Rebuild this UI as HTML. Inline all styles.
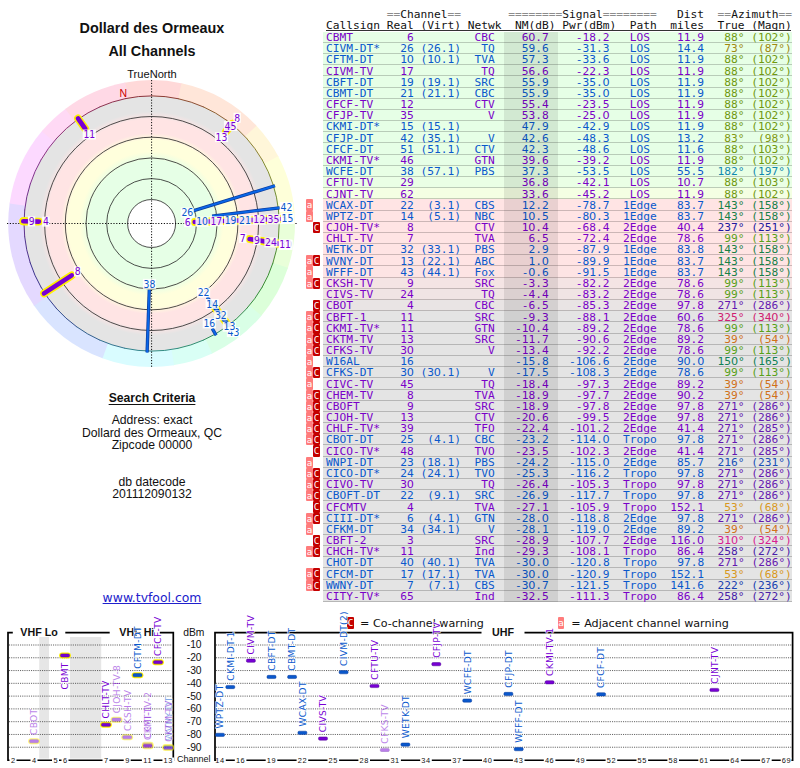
<!DOCTYPE html>
<html><head><meta charset="utf-8"><title>TV Fool - Dollard des Ormeaux</title>
<style>
html,body{margin:0;padding:0;background:#fff}
body{width:800px;height:768px;position:relative;overflow:hidden;font-family:"Liberation Sans",sans-serif;color:#111}
.abs{position:absolute;white-space:nowrap}
.ctr{position:absolute;left:0;width:304px;text-align:center;white-space:nowrap}
.t1{font-weight:bold;font-size:14.4px;line-height:16px}
.t2{font-size:11.1px;line-height:12px}
.sc{font-size:12.2px;line-height:14px}
.lnk{font-family:"DejaVu Sans","Liberation Sans",sans-serif;font-size:12.4px;line-height:14px;color:#2020cc;text-decoration:underline}
.mono{font-family:"DejaVu Sans Mono","Liberation Mono",monospace;font-size:10.5px;white-space:pre;line-height:11.175px;transform:scaleX(1.0678);transform-origin:0 0}
.mono i{font-family:"DejaVu Sans","Liberation Sans",sans-serif;font-style:normal;margin:0 -0.179px}
.row{position:absolute;left:323.3px;width:468.8px;height:11.175px;box-sizing:border-box;border-bottom:1px solid rgba(0,0,0,.2)}
.row span.tx{position:absolute;left:2.7px;top:0.2px}
.hd{position:absolute;left:326px}
.eq{color:#8c8c8c}
.p{color:#7a00c8}.b{color:#0a58cc}
.wa,.wc{position:absolute;height:11.175px;width:6.6px;color:#fff;font-family:"DejaVu Sans Mono","Liberation Mono",monospace;font-size:9.2px;line-height:11px;text-align:center;border-radius:1px}
.wa{left:306.1px;width:6.8px;background:#ff7c7c}
.wc{left:312.9px;width:7.1px;background:#c40000}
.band{position:absolute;left:504.4px;width:53.7px;top:32px;height:570px;background:rgba(0,0,0,.085)}
.leg{font-family:"DejaVu Sans","Liberation Sans",sans-serif;font-size:11.15px;line-height:13px}
svg{position:absolute;left:0;top:0}
svg text{font-family:"DejaVu Sans","Liberation Sans",sans-serif}
svg .ar text,svg text.ar{font-family:"Liberation Sans",sans-serif}
svg text.rl{font-family:"DejaVu Sans Condensed","DejaVu Sans",sans-serif;font-stretch:condensed;font-size:10.3px;text-anchor:middle}
svg text.cl{font-size:9.1px;letter-spacing:0.3px;stroke:#fff;stroke-width:1.6px;stroke-opacity:.75;paint-order:stroke;stroke-linejoin:round}
</style></head><body>

<div class="ctr t1" style="top:20.4px">Dollard des Ormeaux</div>
<div class="ctr t1" style="top:42.6px">All Channels</div>
<div class="ctr t2" style="top:68.2px">TrueNorth</div>
<div class="ctr sc" style="top:391px;font-weight:bold;text-decoration:underline;text-underline-offset:2px">Search Criteria</div>
<div class="ctr sc" style="top:413px">Address: exact</div>
<div class="ctr sc" style="top:426px">Dollard des Ormeaux, QC</div>
<div class="ctr sc" style="top:438px">Zipcode 00000</div>
<div class="ctr sc" style="top:475px">db datecode</div>
<div class="ctr sc" style="top:487px">201112090132</div>
<div class="ctr lnk" style="top:590.5px">www.tvfool.com</div>
<svg width="800" height="768" viewBox="0 0 800 768">
<defs><radialGradient id="rg" gradientUnits="userSpaceOnUse" cx="151.6" cy="223.5" r="127.5">
<stop offset="0.0000" stop-color="#e6ffe6"/>
<stop offset="0.4941" stop-color="#e6ffe6"/>
<stop offset="0.5647" stop-color="#ffffdc"/>
<stop offset="0.6549" stop-color="#ffffdc"/>
<stop offset="0.7098" stop-color="#ffe4e4"/>
<stop offset="0.8157" stop-color="#ffe4e4"/>
<stop offset="0.8784" stop-color="#e4e4e4"/>
<stop offset="1.0000" stop-color="#e4e4e4"/>
</radialGradient></defs>
<path d="M151.60 223.50 L124.24 82.73 A143.4 143.4 0 0 1 182.39 83.45 Z" fill="#ffd9d9"/>
<path d="M151.60 223.50 L181.41 83.23 A143.4 143.4 0 0 1 257.16 126.44 Z" fill="#ffe6d9"/>
<path d="M151.60 223.50 L256.48 125.70 A143.4 143.4 0 0 1 278.68 157.06 Z" fill="#fff6d9"/>
<path d="M151.60 223.50 L278.21 156.18 A143.4 143.4 0 0 1 295.00 224.50 Z" fill="#feffd9"/>
<path d="M151.60 223.50 L295.00 223.50 A143.4 143.4 0 0 1 287.67 268.76 Z" fill="#e9ffd9"/>
<path d="M151.60 223.50 L287.98 267.81 A143.4 143.4 0 0 1 260.80 316.44 Z" fill="#dcffd9"/>
<path d="M151.60 223.50 L261.45 315.68 A143.4 143.4 0 0 1 211.29 353.88 Z" fill="#d9ffe6"/>
<path d="M151.60 223.50 L212.20 353.46 A143.4 143.4 0 0 1 173.04 365.29 Z" fill="#d9fff5"/>
<path d="M151.60 223.50 L174.03 365.13 A143.4 143.4 0 0 1 101.61 357.91 Z" fill="#d9fcff"/>
<path d="M151.60 223.50 L102.55 358.25 A143.4 143.4 0 0 1 33.56 304.93 Z" fill="#d9e4ff"/>
<path d="M151.60 223.50 L34.13 305.75 A143.4 143.4 0 0 1 9.74 202.55 Z" fill="#e4d9ff"/>
<path d="M151.60 223.50 L9.60 203.54 A143.4 143.4 0 0 1 42.40 130.56 Z" fill="#fcd9ff"/>
<path d="M151.60 223.50 L41.75 131.32 A143.4 143.4 0 0 1 66.10 108.38 Z" fill="#ffd9f5"/>
<path d="M151.60 223.50 L65.30 108.98 A143.4 143.4 0 0 1 125.22 82.55 Z" fill="#ffd9e6"/>
<circle cx="151.6" cy="223.5" r="127.5" fill="url(#rg)"/>
<circle cx="151.6" cy="223.5" r="24" fill="#fff"/>
<circle cx="151.6" cy="223.5" r="24" fill="none" stroke="#222" stroke-width="0.8"/>
<circle cx="151.6" cy="223.5" r="44.9" fill="none" stroke="#222" stroke-width="0.8"/>
<circle cx="151.6" cy="223.5" r="65.6" fill="none" stroke="#222" stroke-width="0.8"/>
<circle cx="151.6" cy="223.5" r="86.3" fill="none" stroke="#222" stroke-width="0.8"/>
<circle cx="151.6" cy="223.5" r="107" fill="none" stroke="#222" stroke-width="0.8"/>
<path d="M151.60 95.90A127.6 127.6 0 0 1 178.57 98.78" fill="none" stroke="#802920" stroke-width="0.9"/>
<path d="M178.13 98.69A127.6 127.6 0 0 1 203.91 107.11" fill="none" stroke="#803d20" stroke-width="0.9"/>
<path d="M203.50 106.93A127.6 127.6 0 0 1 226.96 120.53" fill="none" stroke="#805020" stroke-width="0.9"/>
<path d="M226.60 120.27A127.6 127.6 0 0 1 246.72 138.45" fill="none" stroke="#806320" stroke-width="0.9"/>
<path d="M246.43 138.12A127.6 127.6 0 0 1 262.33 160.09" fill="none" stroke="#807620" stroke-width="0.9"/>
<path d="M262.10 159.70A127.6 127.6 0 0 1 273.09 184.49" fill="none" stroke="#768020" stroke-width="0.9"/>
<path d="M272.95 184.07A127.6 127.6 0 0 1 278.55 210.61" fill="none" stroke="#638020" stroke-width="0.9"/>
<path d="M278.50 210.16A127.6 127.6 0 0 1 278.45 237.28" fill="none" stroke="#508020" stroke-width="0.9"/>
<path d="M278.50 236.84A127.6 127.6 0 0 1 272.82 263.35" fill="none" stroke="#3d8020" stroke-width="0.9"/>
<path d="M272.95 262.93A127.6 127.6 0 0 1 261.88 287.69" fill="none" stroke="#298020" stroke-width="0.9"/>
<path d="M262.10 287.30A127.6 127.6 0 0 1 246.13 309.21" fill="none" stroke="#208029" stroke-width="0.9"/>
<path d="M246.43 308.88A127.6 127.6 0 0 1 226.24 326.99" fill="none" stroke="#20803d" stroke-width="0.9"/>
<path d="M226.60 326.73A127.6 127.6 0 0 1 203.09 340.25" fill="none" stroke="#208050" stroke-width="0.9"/>
<path d="M203.50 340.07A127.6 127.6 0 0 1 177.69 348.40" fill="none" stroke="#208063" stroke-width="0.9"/>
<path d="M178.13 348.31A127.6 127.6 0 0 1 151.15 351.10" fill="none" stroke="#208076" stroke-width="0.9"/>
<path d="M151.60 351.10A127.6 127.6 0 0 1 124.63 348.22" fill="none" stroke="#207680" stroke-width="0.9"/>
<path d="M125.07 348.31A127.6 127.6 0 0 1 99.29 339.89" fill="none" stroke="#206380" stroke-width="0.9"/>
<path d="M99.70 340.07A127.6 127.6 0 0 1 76.24 326.47" fill="none" stroke="#205080" stroke-width="0.9"/>
<path d="M76.60 326.73A127.6 127.6 0 0 1 56.48 308.55" fill="none" stroke="#203d80" stroke-width="0.9"/>
<path d="M56.77 308.88A127.6 127.6 0 0 1 40.87 286.91" fill="none" stroke="#202980" stroke-width="0.9"/>
<path d="M41.10 287.30A127.6 127.6 0 0 1 30.11 262.51" fill="none" stroke="#292080" stroke-width="0.9"/>
<path d="M30.25 262.93A127.6 127.6 0 0 1 24.65 236.39" fill="none" stroke="#3d2080" stroke-width="0.9"/>
<path d="M24.70 236.84A127.6 127.6 0 0 1 24.75 209.72" fill="none" stroke="#502080" stroke-width="0.9"/>
<path d="M24.70 210.16A127.6 127.6 0 0 1 30.38 183.65" fill="none" stroke="#632080" stroke-width="0.9"/>
<path d="M30.25 184.07A127.6 127.6 0 0 1 41.32 159.31" fill="none" stroke="#762080" stroke-width="0.9"/>
<path d="M41.10 159.70A127.6 127.6 0 0 1 57.07 137.79" fill="none" stroke="#802076" stroke-width="0.9"/>
<path d="M56.77 138.12A127.6 127.6 0 0 1 76.96 120.01" fill="none" stroke="#802063" stroke-width="0.9"/>
<path d="M76.60 120.27A127.6 127.6 0 0 1 100.11 106.75" fill="none" stroke="#802050" stroke-width="0.9"/>
<path d="M99.70 106.93A127.6 127.6 0 0 1 125.51 98.60" fill="none" stroke="#80203d" stroke-width="0.9"/>
<path d="M125.07 98.69A127.6 127.6 0 0 1 152.05 95.90" fill="none" stroke="#802029" stroke-width="0.9"/>
<path d="M151.6 80V368M7 223.5H297" stroke="#111" stroke-width="1" stroke-dasharray="1.2 1.6" fill="none"/>
<text x="123.3" y="97.4" font-size="10.5" fill="#cc0000" text-anchor="middle" class="ar">N</text>
<path d="M230.62 125.92L232.34 123.79" stroke="#fff000" stroke-width="7.8" stroke-linecap="round"/>
<path d="M230.62 125.92L232.34 123.79" stroke="#7800d4" stroke-width="4.7" stroke-linecap="round"/>
<path d="M26.06 221.31L23.32 221.26" stroke="#fff000" stroke-width="7.8" stroke-linecap="round"/>
<path d="M26.06 221.31L23.32 221.26" stroke="#7800d4" stroke-width="4.7" stroke-linecap="round"/>
<path d="M229.66 127.10L232.78 123.25" stroke="#4a0090" stroke-width="3.3"/>
<path d="M229.66 127.10L232.78 123.25" stroke="#7800d4" stroke-width="1.9"/>
<path d="M273.20 242.76L279.01 243.68" stroke="#0a3a9a" stroke-width="3.3"/>
<path d="M273.20 242.76L279.01 243.68" stroke="#0a66e8" stroke-width="1.9"/>
<path d="M212.28 328.59L216.10 335.22" stroke="#0a3a9a" stroke-width="3.3"/>
<path d="M212.28 328.59L216.10 335.22" stroke="#0a66e8" stroke-width="1.9"/>
<path d="M269.01 242.10L279.01 243.68" stroke="#4a0090" stroke-width="3.3"/>
<path d="M269.01 242.10L279.01 243.68" stroke="#7800d4" stroke-width="1.9"/>
<path d="M225.93 131.71L232.34 123.79" stroke="#fff000" stroke-width="7.8" stroke-linecap="round"/>
<path d="M225.93 131.71L232.34 123.79" stroke="#7800d4" stroke-width="4.7" stroke-linecap="round"/>
<path d="M266.93 241.77L278.32 243.57" stroke="#fff000" stroke-width="7.8" stroke-linecap="round"/>
<path d="M266.93 241.77L278.32 243.57" stroke="#7800d4" stroke-width="4.7" stroke-linecap="round"/>
<path d="M85.28 128.79L78.01 118.40" stroke="#fff000" stroke-width="7.8" stroke-linecap="round"/>
<path d="M85.28 128.79L78.01 118.40" stroke="#7800d4" stroke-width="4.7" stroke-linecap="round"/>
<path d="M38.89 221.53L23.32 221.26" stroke="#fff000" stroke-width="7.8" stroke-linecap="round"/>
<path d="M38.89 221.53L23.32 221.26" stroke="#7800d4" stroke-width="4.7" stroke-linecap="round"/>
<path d="M259.81 240.64L279.01 243.68" stroke="#4a0090" stroke-width="3.3"/>
<path d="M259.81 240.64L279.01 243.68" stroke="#7800d4" stroke-width="1.9"/>
<path d="M259.67 240.62L278.32 243.57" stroke="#fff000" stroke-width="7.8" stroke-linecap="round"/>
<path d="M259.67 240.62L278.32 243.57" stroke="#7800d4" stroke-width="4.7" stroke-linecap="round"/>
<path d="M215.16 307.85L229.23 326.52" stroke="#0a3a9a" stroke-width="3.3"/>
<path d="M215.16 307.85L229.23 326.52" stroke="#0a66e8" stroke-width="1.9"/>
<path d="M214.77 307.33L228.81 325.96" stroke="#fff000" stroke-width="7.8" stroke-linecap="round"/>
<path d="M214.77 307.33L228.81 325.96" stroke="#0a58cc" stroke-width="4.7" stroke-linecap="round"/>
<path d="M212.98 304.96L229.23 326.52" stroke="#0a3a9a" stroke-width="3.3"/>
<path d="M212.98 304.96L229.23 326.52" stroke="#0a66e8" stroke-width="1.9"/>
<path d="M249.65 239.03L278.32 243.57" stroke="#fff000" stroke-width="7.8" stroke-linecap="round"/>
<path d="M249.65 239.03L278.32 243.57" stroke="#7800d4" stroke-width="4.7" stroke-linecap="round"/>
<path d="M71.73 275.37L44.00 293.38" stroke="#fff000" stroke-width="7.8" stroke-linecap="round"/>
<path d="M71.73 275.37L44.00 293.38" stroke="#7800d4" stroke-width="4.7" stroke-linecap="round"/>
<path d="M208.25 298.68L229.23 326.52" stroke="#0a3a9a" stroke-width="3.3"/>
<path d="M208.25 298.68L229.23 326.52" stroke="#0a66e8" stroke-width="1.9"/>
<path d="M207.19 297.27L229.23 326.52" stroke="#0a3a9a" stroke-width="3.3"/>
<path d="M207.19 297.27L229.23 326.52" stroke="#0a66e8" stroke-width="1.9"/>
<path d="M221.78 221.05L280.52 219.00" stroke="#4a0090" stroke-width="3.3"/>
<path d="M221.78 221.05L280.52 219.00" stroke="#7800d4" stroke-width="1.9"/>
<path d="M218.47 221.16L280.52 219.00" stroke="#4a0090" stroke-width="3.3"/>
<path d="M218.47 221.16L280.52 219.00" stroke="#7800d4" stroke-width="1.9"/>
<path d="M149.28 289.85L147.10 352.42" stroke="#0a3a9a" stroke-width="3.3"/>
<path d="M149.28 289.85L147.10 352.42" stroke="#0a66e8" stroke-width="1.9"/>
<path d="M215.58 221.27L280.52 219.00" stroke="#4a0090" stroke-width="3.3"/>
<path d="M215.58 221.27L280.52 219.00" stroke="#7800d4" stroke-width="1.9"/>
<path d="M212.78 221.36L280.52 219.00" stroke="#0a3a9a" stroke-width="3.3"/>
<path d="M212.78 221.36L280.52 219.00" stroke="#0a66e8" stroke-width="1.9"/>
<path d="M212.05 216.08L279.64 207.78" stroke="#0a3a9a" stroke-width="3.3"/>
<path d="M212.05 216.08L279.64 207.78" stroke="#0a66e8" stroke-width="1.9"/>
<path d="M206.99 221.57L280.52 219.00" stroke="#0a3a9a" stroke-width="3.3"/>
<path d="M206.99 221.57L280.52 219.00" stroke="#0a66e8" stroke-width="1.9"/>
<path d="M200.89 221.78L280.52 219.00" stroke="#4a0090" stroke-width="3.3"/>
<path d="M200.89 221.78L280.52 219.00" stroke="#7800d4" stroke-width="1.9"/>
<path d="M200.23 221.80L279.82 219.02" stroke="#fff000" stroke-width="7.8" stroke-linecap="round"/>
<path d="M200.23 221.80L279.82 219.02" stroke="#7800d4" stroke-width="4.7" stroke-linecap="round"/>
<path d="M198.71 221.85L280.52 219.00" stroke="#0a3a9a" stroke-width="3.3"/>
<path d="M198.71 221.85L280.52 219.00" stroke="#0a66e8" stroke-width="1.9"/>
<path d="M198.71 221.85L280.52 219.00" stroke="#0a3a9a" stroke-width="3.3"/>
<path d="M198.71 221.85L280.52 219.00" stroke="#0a66e8" stroke-width="1.9"/>
<path d="M197.99 221.88L280.52 219.00" stroke="#4a0090" stroke-width="3.3"/>
<path d="M197.99 221.88L280.52 219.00" stroke="#7800d4" stroke-width="1.9"/>
<path d="M198.27 221.87L279.82 219.02" stroke="#fff000" stroke-width="7.8" stroke-linecap="round"/>
<path d="M198.27 221.87L279.82 219.02" stroke="#0a58cc" stroke-width="4.7" stroke-linecap="round"/>
<path d="M193.02 210.84L274.96 185.78" stroke="#0a3a9a" stroke-width="3.3"/>
<path d="M193.02 210.84L274.96 185.78" stroke="#0a66e8" stroke-width="1.9"/>
<path d="M194.75 221.99L279.82 219.02" stroke="#fff000" stroke-width="7.8" stroke-linecap="round"/>
<path d="M194.75 221.99L279.82 219.02" stroke="#7800d4" stroke-width="4.7" stroke-linecap="round"/>
<rect x="27.94" y="216.41" width="7.30" height="10" fill="#fff" fill-opacity="0.88"/>
<text x="31.59" y="225.11" class="rl" fill="#7800d4">9</text>
<rect x="233.54" y="112.81" width="7.30" height="10" fill="#fff" fill-opacity="0.88"/>
<text x="237.19" y="121.51" class="rl" fill="#7800d4">8</text>
<rect x="223.92" y="121.04" width="13.20" height="10" fill="#fff" fill-opacity="0.88"/>
<text x="230.52" y="129.74" class="rl" fill="#7800d4">45</text>
<rect x="279.33" y="239.78" width="13.20" height="10" fill="#fff" fill-opacity="0.88"/>
<text x="285.93" y="248.48" class="rl" fill="#0a58cc">30</text>
<rect x="202.68" y="318.40" width="13.20" height="10" fill="#fff" fill-opacity="0.88"/>
<text x="209.28" y="327.10" class="rl" fill="#0a58cc">16</text>
<rect x="279.33" y="239.78" width="13.20" height="10" fill="#fff" fill-opacity="0.88"/>
<text x="285.93" y="248.48" class="rl" fill="#7800d4">30</text>
<rect x="214.92" y="132.15" width="13.20" height="10" fill="#fff" fill-opacity="0.88"/>
<text x="221.52" y="140.85" class="rl" fill="#7800d4">13</text>
<rect x="278.51" y="239.65" width="13.20" height="10" fill="#fff" fill-opacity="0.88"/>
<text x="285.11" y="248.35" class="rl" fill="#7800d4">11</text>
<rect x="82.69" y="129.52" width="13.20" height="10" fill="#fff" fill-opacity="0.88"/>
<text x="89.29" y="138.22" class="rl" fill="#7800d4">11</text>
<rect x="42.24" y="216.65" width="7.30" height="10" fill="#fff" fill-opacity="0.88"/>
<text x="45.89" y="225.35" class="rl" fill="#7800d4">4</text>
<rect x="264.38" y="237.41" width="13.20" height="10" fill="#fff" fill-opacity="0.88"/>
<text x="270.98" y="246.11" class="rl" fill="#7800d4">24</text>
<rect x="253.21" y="235.17" width="7.30" height="10" fill="#fff" fill-opacity="0.88"/>
<text x="256.86" y="243.87" class="rl" fill="#7800d4">9</text>
<rect x="226.85" y="327.11" width="13.20" height="10" fill="#fff" fill-opacity="0.88"/>
<text x="233.45" y="335.81" class="rl" fill="#0a58cc">43</text>
<rect x="222.80" y="321.74" width="13.20" height="10" fill="#fff" fill-opacity="0.88"/>
<text x="229.40" y="330.44" class="rl" fill="#0a58cc">13</text>
<rect x="214.19" y="310.32" width="13.20" height="10" fill="#fff" fill-opacity="0.88"/>
<text x="220.79" y="319.02" class="rl" fill="#0a58cc">32</text>
<rect x="239.09" y="232.93" width="7.30" height="10" fill="#fff" fill-opacity="0.88"/>
<text x="242.74" y="241.63" class="rl" fill="#7800d4">7</text>
<rect x="73.95" y="266.56" width="7.30" height="10" fill="#fff" fill-opacity="0.88"/>
<text x="77.60" y="275.26" class="rl" fill="#7800d4">8</text>
<rect x="205.59" y="298.90" width="13.20" height="10" fill="#fff" fill-opacity="0.88"/>
<text x="212.19" y="307.60" class="rl" fill="#0a58cc">14</text>
<rect x="196.98" y="287.48" width="13.20" height="10" fill="#fff" fill-opacity="0.88"/>
<text x="203.58" y="296.18" class="rl" fill="#0a58cc">22</text>
<rect x="280.92" y="213.75" width="13.20" height="10" fill="#fff" fill-opacity="0.88"/>
<text x="287.52" y="222.45" class="rl" fill="#7800d4">62</text>
<rect x="280.92" y="213.75" width="13.20" height="10" fill="#fff" fill-opacity="0.88"/>
<text x="287.52" y="222.45" class="rl" fill="#7800d4">29</text>
<rect x="142.89" y="278.86" width="13.20" height="10" fill="#fff" fill-opacity="0.88"/>
<text x="149.49" y="287.56" class="rl" fill="#0a58cc">38</text>
<rect x="280.92" y="213.75" width="13.20" height="10" fill="#fff" fill-opacity="0.88"/>
<text x="287.52" y="222.45" class="rl" fill="#7800d4">46</text>
<rect x="280.92" y="213.75" width="13.20" height="10" fill="#fff" fill-opacity="0.88"/>
<text x="287.52" y="222.45" class="rl" fill="#0a58cc">51</text>
<rect x="279.79" y="201.95" width="13.20" height="10" fill="#fff" fill-opacity="0.88"/>
<text x="286.39" y="210.65" class="rl" fill="#0a58cc">42</text>
<rect x="280.92" y="213.75" width="13.20" height="10" fill="#fff" fill-opacity="0.88"/>
<text x="287.52" y="222.45" class="rl" fill="#0a58cc">15</text>
<rect x="266.90" y="214.24" width="13.20" height="10" fill="#fff" fill-opacity="0.88"/>
<text x="273.50" y="222.94" class="rl" fill="#7800d4">35</text>
<rect x="252.61" y="214.74" width="13.20" height="10" fill="#fff" fill-opacity="0.88"/>
<text x="259.21" y="223.44" class="rl" fill="#7800d4">12</text>
<rect x="238.32" y="215.24" width="13.20" height="10" fill="#fff" fill-opacity="0.88"/>
<text x="244.92" y="223.94" class="rl" fill="#0a58cc">21</text>
<rect x="224.03" y="215.74" width="13.20" height="10" fill="#fff" fill-opacity="0.88"/>
<text x="230.63" y="224.44" class="rl" fill="#0a58cc">19</text>
<rect x="209.74" y="216.24" width="13.20" height="10" fill="#fff" fill-opacity="0.88"/>
<text x="216.34" y="224.94" class="rl" fill="#7800d4">17</text>
<rect x="195.44" y="216.74" width="13.20" height="10" fill="#fff" fill-opacity="0.88"/>
<text x="202.04" y="225.44" class="rl" fill="#0a58cc">10</text>
<rect x="180.68" y="207.59" width="13.20" height="10" fill="#fff" fill-opacity="0.88"/>
<text x="187.28" y="216.29" class="rl" fill="#0a58cc">26</text>
<rect x="184.10" y="217.24" width="7.30" height="10" fill="#fff" fill-opacity="0.88"/>
<text x="187.75" y="225.94" class="rl" fill="#7800d4">6</text>
</svg>
<div class="mono hd" style="top:9px">         <span class="eq">==</span>Channel<span class="eq">==</span>       <span class="eq">========</span>Signal<span class="eq">========</span>   Dist  <span class="eq">==</span>Azimuth<span class="eq">==</span></div>
<div class="mono hd" style="top:19.5px">Callsign Real (Virt) Netwk  NM(dB) Pwr(dBm)  Path  miles  True (Magn)</div>
<div class="abs" style="left:326.2px;top:29.75px;width:464.4px;height:1px;background:#333"></div>
<div class="row" style="top:32px;height:11px;background:#e6ffe6"><span class="tx mono p" style="top:0.00px">CBMT        6         CBC    6<i>0</i>.7    -18.2   LOS    11.9  <span style="color:#709810"> 88° (1<i>0</i>2°)</span></span></div>
<div class="row" style="top:43px;height:11px;background:#e6ffe6"><span class="tx mono b" style="top:0.18px">CIVM-DT*   26 (26.1)   TQ    59.6    -31.3   LOS    14.4  <span style="color:#a08810"> 73°  (87°)</span></span></div>
<div class="row" style="top:54px;height:11px;background:#e6ffe6"><span class="tx mono b" style="top:0.36px">CFTM-DT    1<i>0</i> (1<i>0</i>.1)  TVA    57.3    -33.6   LOS    11.9  <span style="color:#709810"> 88° (1<i>0</i>2°)</span></span></div>
<div class="row" style="top:65px;height:11px;background:#e6ffe6"><span class="tx mono p" style="top:0.54px">CIVM-TV    17          TQ    56.6    -22.3   LOS    11.9  <span style="color:#709810"> 88° (1<i>0</i>2°)</span></span></div>
<div class="row" style="top:76px;height:12px;background:#e6ffe6"><span class="tx mono b" style="top:0.72px">CBFT-DT    19 (19.1)  SRC    55.9    -35.<i>0</i>   LOS    11.9  <span style="color:#709810"> 88° (1<i>0</i>2°)</span></span></div>
<div class="row" style="top:88px;height:11px;background:#e6ffe6"><span class="tx mono b" style="top:-0.10px">CBMT-DT    21 (21.1)  CBC    55.9    -35.<i>0</i>   LOS    11.9  <span style="color:#709810"> 88° (1<i>0</i>2°)</span></span></div>
<div class="row" style="top:99px;height:11px;background:#e6ffe6"><span class="tx mono p" style="top:0.08px">CFCF-TV    12         CTV    55.4    -23.5   LOS    11.9  <span style="color:#709810"> 88° (1<i>0</i>2°)</span></span></div>
<div class="row" style="top:110px;height:11px;background:#e6ffe6"><span class="tx mono p" style="top:0.26px">CFJP-TV    35           V    53.8    -25.<i>0</i>   LOS    11.9  <span style="color:#709810"> 88° (1<i>0</i>2°)</span></span></div>
<div class="row" style="top:121px;height:11px;background:#e6ffe6"><span class="tx mono b" style="top:0.44px">CKMI-DT*   15 (15.1)         47.9    -42.9   LOS    11.9  <span style="color:#709810"> 88° (1<i>0</i>2°)</span></span></div>
<div class="row" style="top:132px;height:11px;background:#e6ffe6"><span class="tx mono b" style="top:0.62px">CFJP-DT    42 (35.1)    V    42.6    -48.3   LOS    13.2  <span style="color:#809810"> 83°  (98°)</span></span></div>
<div class="row" style="top:143px;height:12px;background:#e6ffe6"><span class="tx mono b" style="top:0.80px">CFCF-DT    51 (51.1)  CTV    42.3    -48.6   LOS    11.6  <span style="color:#709810"> 88° (1<i>0</i>3°)</span></span></div>
<div class="row" style="top:155px;height:11px;background:#e6ffe6"><span class="tx mono p" style="top:-0.02px">CKMI-TV*   46         GTN    39.6    -39.2   LOS    11.9  <span style="color:#709810"> 88° (1<i>0</i>2°)</span></span></div>
<div class="row" style="top:166px;height:11px;background:#e8ffe5"><span class="tx mono b" style="top:0.16px">WCFE-DT    38 (57.1)  PBS    37.3    -53.5   LOS    55.5  <span style="color:#1088b0">182° (197°)</span></span></div>
<div class="row" style="top:177px;height:11px;background:#eaffe5"><span class="tx mono p" style="top:0.34px">CFTU-TV    29                36.8    -42.1   LOS    1<i>0</i>.7  <span style="color:#709810"> 88° (1<i>0</i>3°)</span></span></div>
<div class="row" style="top:188px;height:11px;background:#f4ffe3"><span class="tx mono p" style="top:0.52px">CJNT-TV    62                33.6    -45.2   LOS    11.9  <span style="color:#709810"> 88° (1<i>0</i>2°)</span></span></div>
<div class="row" style="top:199px;height:12px;background:#ffe4e4"><span class="tx mono b" style="top:0.70px">WCAX-DT    22  (3.1)  CBS    12.2    -78.7  1Edge   83.7  <span style="color:#188048">143° (158°)</span></span></div>
<div class="wa" style="top:199px;height:12px">a</div>
<div class="row" style="top:211px;height:11px;background:#ffe4e4"><span class="tx mono b" style="top:-0.12px">WPTZ-DT    14  (5.1)  NBC    1<i>0</i>.5    -8<i>0</i>.3  1Edge   83.7  <span style="color:#188048">143° (158°)</span></span></div>
<div class="wa" style="top:211px;height:11px">a</div>
<div class="row" style="top:222px;height:11px;background:#ffe4e4"><span class="tx mono p" style="top:0.06px">CJOH-TV*    8         CTV    1<i>0</i>.4    -68.4  2Edge   4<i>0</i>.4  <span style="color:#2018a0">237° (251°)</span></span></div>
<div class="wc" style="top:222px;height:11px">C</div>
<div class="row" style="top:233px;height:11px;background:#ffe4e4"><span class="tx mono p" style="top:0.24px">CHLT-TV     7         TVA     6.5    -72.4  2Edge   78.6  <span style="color:#58a018"> 99° (113°)</span></span></div>
<div class="row" style="top:244px;height:11px;background:#ffe4e4"><span class="tx mono b" style="top:0.42px">WETK-DT    32 (33.1)  PBS     2.9    -87.9  1Edge   83.8  <span style="color:#188048">143° (158°)</span></span></div>
<div class="row" style="top:255px;height:11px;background:#ffe4e4"><span class="tx mono b" style="top:0.60px">WVNY-DT    13 (22.1)  ABC     1.<i>0</i>    -89.9  1Edge   83.7  <span style="color:#188048">143° (158°)</span></span></div>
<div class="wa" style="top:255px;height:11px">a</div>
<div class="wc" style="top:255px;height:11px">C</div>
<div class="row" style="top:266px;height:12px;background:#fde4e4"><span class="tx mono b" style="top:0.78px">WFFF-DT    43 (44.1)  Fox    -<i>0</i>.6    -91.5  1Edge   83.7  <span style="color:#188048">143° (158°)</span></span></div>
<div class="wa" style="top:266px;height:12px">a</div>
<div class="row" style="top:278px;height:11px;background:#f4e4e4"><span class="tx mono p" style="top:-0.04px">CKSH-TV     9         SRC    -3.3    -82.2  2Edge   78.6  <span style="color:#58a018"> 99° (113°)</span></span></div>
<div class="wa" style="top:278px;height:11px">a</div>
<div class="wc" style="top:278px;height:11px">C</div>
<div class="row" style="top:289px;height:11px;background:#f0e4e4"><span class="tx mono p" style="top:0.14px">CIVS-TV    24          TQ    -4.4    -83.2  2Edge   78.6  <span style="color:#58a018"> 99° (113°)</span></span></div>
<div class="row" style="top:300px;height:11px;background:#e9e4e4"><span class="tx mono p" style="top:0.32px">CBOT        4         CBC    -6.5    -85.3  2Edge   97.8  <span style="color:#6418b0">271° (286°)</span></span></div>
<div class="wc" style="top:300px;height:11px">C</div>
<div class="row" style="top:311px;height:11px;background:#e4e4e4"><span class="tx mono p" style="top:0.50px">CBFT-1     11         SRC    -9.3    -88.1  2Edge   6<i>0</i>.6  <span style="color:#d02070">325° (34<i>0</i>°)</span></span></div>
<div class="wa" style="top:311px;height:11px">a</div>
<div class="wc" style="top:311px;height:11px">C</div>
<div class="row" style="top:322px;height:12px;background:#e4e4e4"><span class="tx mono p" style="top:0.68px">CKMI-TV*   11         GTN   -1<i>0</i>.4    -89.2  2Edge   78.6  <span style="color:#58a018"> 99° (113°)</span></span></div>
<div class="wa" style="top:322px;height:12px">a</div>
<div class="wc" style="top:322px;height:12px">C</div>
<div class="row" style="top:334px;height:11px;background:#e4e4e4"><span class="tx mono p" style="top:-0.14px">CKTM-TV    13         SRC   -11.7    -9<i>0</i>.6  2Edge   89.2  <span style="color:#d07018"> 39°  (54°)</span></span></div>
<div class="wa" style="top:334px;height:11px">a</div>
<div class="wc" style="top:334px;height:11px">C</div>
<div class="row" style="top:345px;height:11px;background:#e4e4e4"><span class="tx mono p" style="top:0.04px">CFKS-TV    3<i>0</i>           V   -13.4    -92.2  2Edge   78.6  <span style="color:#58a018"> 99° (113°)</span></span></div>
<div class="wa" style="top:345px;height:11px">a</div>
<div class="wc" style="top:345px;height:11px">C</div>
<div class="row" style="top:356px;height:11px;background:#e4e4e4"><span class="tx mono b" style="top:0.22px">W16AL      16               -15.8   -1<i>0</i>6.6  2Edge   9<i>0</i>.<i>0</i>  <span style="color:#108054">15<i>0</i>° (165°)</span></span></div>
<div class="wa" style="top:356px;height:11px">a</div>
<div class="row" style="top:367px;height:11px;background:#e4e4e4"><span class="tx mono b" style="top:0.40px">CFKS-DT    3<i>0</i> (3<i>0</i>.1)    V   -17.5   -1<i>0</i>8.3  2Edge   78.6  <span style="color:#58a018"> 99° (113°)</span></span></div>
<div class="wa" style="top:367px;height:11px">a</div>
<div class="wc" style="top:367px;height:11px">C</div>
<div class="row" style="top:378px;height:12px;background:#e4e4e4"><span class="tx mono p" style="top:0.58px">CIVC-TV    45          TQ   -18.4    -97.3  2Edge   89.2  <span style="color:#d07018"> 39°  (54°)</span></span></div>
<div class="wa" style="top:378px;height:12px">a</div>
<div class="row" style="top:390px;height:11px;background:#e4e4e4"><span class="tx mono p" style="top:-0.24px">CHEM-TV     8         TVA   -18.9    -97.7  2Edge   9<i>0</i>.2  <span style="color:#d07018"> 39°  (54°)</span></span></div>
<div class="wa" style="top:390px;height:11px">a</div>
<div class="wc" style="top:390px;height:11px">C</div>
<div class="row" style="top:401px;height:11px;background:#e4e4e4"><span class="tx mono p" style="top:-0.06px">CBOFT       9         SRC   -18.9    -97.8  2Edge   97.8  <span style="color:#6418b0">271° (286°)</span></span></div>
<div class="wa" style="top:401px;height:11px">a</div>
<div class="wc" style="top:401px;height:11px">C</div>
<div class="row" style="top:412px;height:11px;background:#e4e4e4"><span class="tx mono p" style="top:0.12px">CJOH-TV    13         CTV   -2<i>0</i>.6    -99.5  2Edge   97.8  <span style="color:#6418b0">271° (286°)</span></span></div>
<div class="wa" style="top:412px;height:11px">a</div>
<div class="wc" style="top:412px;height:11px">C</div>
<div class="row" style="top:423px;height:11px;background:#e4e4e4"><span class="tx mono p" style="top:0.30px">CHLF-TV*   39         TFO   -22.4   -1<i>0</i>1.2  2Edge   41.4  <span style="color:#6418b0">271° (285°)</span></span></div>
<div class="wa" style="top:423px;height:11px">a</div>
<div class="wc" style="top:423px;height:11px">C</div>
<div class="row" style="top:434px;height:11px;background:#e4e4e4"><span class="tx mono b" style="top:0.48px">CBOT-DT    25  (4.1)  CBC   -23.2   -114.<i>0</i>  Tropo   97.8  <span style="color:#6418b0">271° (286°)</span></span></div>
<div class="wa" style="top:434px;height:11px">a</div>
<div class="wc" style="top:434px;height:11px">C</div>
<div class="row" style="top:445px;height:12px;background:#e4e4e4"><span class="tx mono p" style="top:0.66px">CICO-TV*   48         TVO   -23.5   -1<i>0</i>2.3  2Edge   41.4  <span style="color:#6418b0">271° (285°)</span></span></div>
<div class="wc" style="top:445px;height:12px">C</div>
<div class="row" style="top:457px;height:11px;background:#e4e4e4"><span class="tx mono b" style="top:-0.16px">WNPI-DT    23 (18.1)  PBS   -24.2   -115.<i>0</i>  2Edge   85.7  <span style="color:#1850b8">216° (231°)</span></span></div>
<div class="wa" style="top:457px;height:11px">a</div>
<div class="row" style="top:468px;height:11px;background:#e4e4e4"><span class="tx mono b" style="top:0.02px">CICO-DT*   24 (24.1)  TVO   -25.3   -116.2  Tropo   97.8  <span style="color:#6418b0">271° (286°)</span></span></div>
<div class="wa" style="top:468px;height:11px">a</div>
<div class="wc" style="top:468px;height:11px">C</div>
<div class="row" style="top:479px;height:11px;background:#e4e4e4"><span class="tx mono p" style="top:0.20px">CIVO-TV    3<i>0</i>          TQ   -26.4   -1<i>0</i>5.3  Tropo   97.8  <span style="color:#6418b0">271° (286°)</span></span></div>
<div class="wa" style="top:479px;height:11px">a</div>
<div class="wc" style="top:479px;height:11px">C</div>
<div class="row" style="top:490px;height:11px;background:#e4e4e4"><span class="tx mono b" style="top:0.38px">CBOFT-DT   22  (9.1)  SRC   -26.9   -117.7  Tropo   97.8  <span style="color:#6418b0">271° (286°)</span></span></div>
<div class="wa" style="top:490px;height:11px">a</div>
<div class="wc" style="top:490px;height:11px">C</div>
<div class="row" style="top:501px;height:12px;background:#e4e4e4"><span class="tx mono p" style="top:0.56px">CFCMTV      4         TVA   -27.1   -1<i>0</i>5.9  Tropo  152.1  <span style="color:#d89820"> 53°  (68°)</span></span></div>
<div class="wc" style="top:501px;height:12px">C</div>
<div class="row" style="top:513px;height:11px;background:#e4e4e4"><span class="tx mono b" style="top:-0.26px">CIII-DT*    6  (4.1)  GTN   -28.<i>0</i>   -118.8  2Edge   97.8  <span style="color:#6418b0">271° (286°)</span></span></div>
<div class="wa" style="top:513px;height:11px">a</div>
<div class="wc" style="top:513px;height:11px">C</div>
<div class="row" style="top:524px;height:11px;background:#e4e4e4"><span class="tx mono b" style="top:-0.08px">CFKM-DT    34 (34.1)    V   -28.1   -119.<i>0</i>  2Edge   89.2  <span style="color:#d07018"> 39°  (54°)</span></span></div>
<div class="wa" style="top:524px;height:11px">a</div>
<div class="row" style="top:535px;height:11px;background:#e4e4e4"><span class="tx mono p" style="top:0.10px">CBFT-2      3         SRC   -28.9   -1<i>0</i>7.7  2Edge  116.<i>0</i>  <span style="color:#d82090">31<i>0</i>° (324°)</span></span></div>
<div class="wc" style="top:535px;height:11px">C</div>
<div class="row" style="top:546px;height:11px;background:#e4e4e4"><span class="tx mono p" style="top:0.28px">CHCH-TV*   11         Ind   -29.3   -1<i>0</i>8.1  Tropo   86.4  <span style="color:#4820a8">258° (272°)</span></span></div>
<div class="wa" style="top:546px;height:11px">a</div>
<div class="wc" style="top:546px;height:11px">C</div>
<div class="row" style="top:557px;height:11px;background:#e4e4e4"><span class="tx mono b" style="top:0.46px">CHOT-DT    4<i>0</i> (4<i>0</i>.1)  TVA   -3<i>0</i>.<i>0</i>   -12<i>0</i>.8  Tropo   97.8  <span style="color:#6418b0">271° (286°)</span></span></div>
<div class="row" style="top:568px;height:12px;background:#e4e4e4"><span class="tx mono b" style="top:0.64px">CFCM-DT    17 (17.1)  TVA   -3<i>0</i>.<i>0</i>   -12<i>0</i>.9  Tropo  152.1  <span style="color:#d89820"> 53°  (68°)</span></span></div>
<div class="wa" style="top:568px;height:12px">a</div>
<div class="wc" style="top:568px;height:12px">C</div>
<div class="row" style="top:580px;height:11px;background:#e4e4e4"><span class="tx mono b" style="top:-0.18px">WWNY-DT     7  (7.1)  CBS   -3<i>0</i>.7   -121.5  Tropo  141.6  <span style="color:#1840b0">222° (236°)</span></span></div>
<div class="wa" style="top:580px;height:11px">a</div>
<div class="wc" style="top:580px;height:11px">C</div>
<div class="row" style="top:591px;height:11px;background:#e4e4e4"><span class="tx mono p" style="top:0.00px">CITY-TV*   65         Ind   -32.5   -111.3  Tropo   86.4  <span style="color:#4820a8">258° (272°)</span></span></div>
<div class="band"></div>
<div class="wc" style="left:347px;top:617.2px;width:7px;height:11.6px">C</div>
<div class="abs leg" style="left:360px;top:616.5px">= Co-channel warning</div>
<div class="wa" style="left:557.8px;top:617.2px;width:6.6px;height:11.8px">a</div>
<div class="abs leg" style="left:571.3px;top:616.5px">= Adjacent channel warning</div>
<svg width="800" height="768" viewBox="0 0 800 768">
<rect x="39.2" y="637" width="9.8" height="121.6" fill="#e6e6e6"/><rect x="70" y="637" width="31.2" height="121.6" fill="#e6e6e6"/>
<path d="M9 645.00H172M216 645.00H792" stroke="#444" stroke-width="0.85" stroke-dasharray="1.1 1.1"/>
<path d="M9 657.78H172M216 657.78H792" stroke="#444" stroke-width="0.85" stroke-dasharray="1.1 1.1"/>
<path d="M9 670.56H172M216 670.56H792" stroke="#444" stroke-width="0.85" stroke-dasharray="1.1 1.1"/>
<path d="M9 683.34H172M216 683.34H792" stroke="#444" stroke-width="0.85" stroke-dasharray="1.1 1.1"/>
<path d="M9 696.12H172M216 696.12H792" stroke="#444" stroke-width="0.85" stroke-dasharray="1.1 1.1"/>
<path d="M9 708.90H172M216 708.90H792" stroke="#444" stroke-width="0.85" stroke-dasharray="1.1 1.1"/>
<path d="M9 721.68H172M216 721.68H792" stroke="#444" stroke-width="0.85" stroke-dasharray="1.1 1.1"/>
<path d="M9 734.46H172M216 734.46H792" stroke="#444" stroke-width="0.85" stroke-dasharray="1.1 1.1"/>
<path d="M9 747.24H172M216 747.24H792" stroke="#444" stroke-width="0.85" stroke-dasharray="1.1 1.1"/>
<path d="M8 761V632.6H173.3V761M215 761V632.6H792.6V761" fill="none" stroke="#000" stroke-width="1.7"/>
<path d="M8 760.2H173.3M215 760.2H792.6" fill="none" stroke="#000" stroke-width="1.6"/>
<rect x="12.8" y="630" width="52.5" height="5" fill="#fff"/>
<rect x="109.7" y="630" width="50.1" height="5" fill="#fff"/>
<rect x="481.5" y="630" width="43" height="5" fill="#fff"/>
<g class="ar" style="font-weight:bold" font-size="10.7" fill="#111">
<text x="20.3" y="635.8">VHF Lo</text><text x="119.3" y="635.8">VHF Hi</text><text x="492" y="636">UHF</text></g>
<g class="ar" font-size="10.3" fill="#111">
<text x="183.2" y="635.6">dBm</text>
<text x="201.6" y="648.40" text-anchor="end">-10</text>
<text x="201.6" y="661.18" text-anchor="end">-20</text>
<text x="201.6" y="673.96" text-anchor="end">-30</text>
<text x="201.6" y="686.74" text-anchor="end">-40</text>
<text x="201.6" y="699.52" text-anchor="end">-50</text>
<text x="201.6" y="712.30" text-anchor="end">-60</text>
<text x="201.6" y="725.08" text-anchor="end">-70</text>
<text x="201.6" y="737.86" text-anchor="end">-80</text>
<text x="201.6" y="750.64" text-anchor="end">-90</text>
<text x="177" y="762" font-size="9">Channel</text>
</g>
<g class="ar" font-size="7.4" fill="#111" text-anchor="middle">
<rect x="9.50" y="757.5" width="7.00" height="5" fill="#fff"/>
<text x="13.00" y="762.8">2</text>
<rect x="30.50" y="757.5" width="7.00" height="5" fill="#fff"/>
<text x="34.00" y="762.8">4</text>
<rect x="52.00" y="757.5" width="7.00" height="5" fill="#fff"/>
<text x="55.50" y="762.8">5</text>
<rect x="61.50" y="757.5" width="7.00" height="5" fill="#fff"/>
<text x="65.00" y="762.8">6</text>
<rect x="102.50" y="757.5" width="7.00" height="5" fill="#fff"/>
<text x="106.00" y="762.8">7</text>
<rect x="123.70" y="757.5" width="7.00" height="5" fill="#fff"/>
<text x="127.20" y="762.8">9</text>
<rect x="141.90" y="757.5" width="11.60" height="5" fill="#fff"/>
<text x="147.70" y="762.8" letter-spacing="0.6">11</text>
<rect x="162.40" y="757.5" width="11.60" height="5" fill="#fff"/>
<text x="168.20" y="762.8" letter-spacing="0.6">13</text>
<rect x="216.20" y="757.5" width="9.60" height="5" fill="#fff"/>
<text x="220.00" y="762.8" letter-spacing="0.6">14</text>
<rect x="234.80" y="757.5" width="11.60" height="5" fill="#fff"/>
<text x="240.60" y="762.8" letter-spacing="0.6">16</text>
<rect x="265.70" y="757.5" width="11.60" height="5" fill="#fff"/>
<text x="271.50" y="762.8" letter-spacing="0.6">19</text>
<rect x="296.60" y="757.5" width="11.60" height="5" fill="#fff"/>
<text x="302.40" y="762.8" letter-spacing="0.6">22</text>
<rect x="327.50" y="757.5" width="11.60" height="5" fill="#fff"/>
<text x="333.30" y="762.8" letter-spacing="0.6">25</text>
<rect x="358.40" y="757.5" width="11.60" height="5" fill="#fff"/>
<text x="364.20" y="762.8" letter-spacing="0.6">28</text>
<rect x="389.30" y="757.5" width="11.60" height="5" fill="#fff"/>
<text x="395.10" y="762.8" letter-spacing="0.6">31</text>
<rect x="420.20" y="757.5" width="11.60" height="5" fill="#fff"/>
<text x="426.00" y="762.8" letter-spacing="0.6">34</text>
<rect x="451.10" y="757.5" width="11.60" height="5" fill="#fff"/>
<text x="456.90" y="762.8" letter-spacing="0.6">37</text>
<rect x="482.00" y="757.5" width="11.60" height="5" fill="#fff"/>
<text x="487.80" y="762.8" letter-spacing="0.6">40</text>
<rect x="512.90" y="757.5" width="11.60" height="5" fill="#fff"/>
<text x="518.70" y="762.8" letter-spacing="0.6">43</text>
<rect x="543.80" y="757.5" width="11.60" height="5" fill="#fff"/>
<text x="549.60" y="762.8" letter-spacing="0.6">46</text>
<rect x="574.70" y="757.5" width="11.60" height="5" fill="#fff"/>
<text x="580.50" y="762.8" letter-spacing="0.6">49</text>
<rect x="605.60" y="757.5" width="11.60" height="5" fill="#fff"/>
<text x="611.40" y="762.8" letter-spacing="0.6">52</text>
<rect x="636.50" y="757.5" width="11.60" height="5" fill="#fff"/>
<text x="642.30" y="762.8" letter-spacing="0.6">55</text>
<rect x="667.40" y="757.5" width="11.60" height="5" fill="#fff"/>
<text x="673.20" y="762.8" letter-spacing="0.6">58</text>
<rect x="698.30" y="757.5" width="11.60" height="5" fill="#fff"/>
<text x="704.10" y="762.8" letter-spacing="0.6">61</text>
<rect x="729.20" y="757.5" width="11.60" height="5" fill="#fff"/>
<text x="735.00" y="762.8" letter-spacing="0.6">64</text>
<rect x="760.10" y="757.5" width="11.60" height="5" fill="#fff"/>
<text x="765.90" y="762.8" letter-spacing="0.6">67</text>
<rect x="780.70" y="757.5" width="10.70" height="5" fill="#fff"/>
<text x="786.50" y="762.8" letter-spacing="0.6">69</text>
</g>
<g opacity="0.5">
<rect x="28.10" y="738.23" width="11.8" height="6" rx="3" fill="#fff000"/>
<rect x="29.50" y="739.63" width="9" height="3.2" rx="1.3" fill="#7800d4" stroke="#4a0090" stroke-width="0.5"/>
<text transform="translate(37.30 734.93) rotate(-90)" class="cl" fill="#7800d4">CBOT</text>
</g>
<g>
<rect x="59.10" y="652.48" width="11.8" height="6" rx="3" fill="#fff000"/>
<rect x="60.50" y="653.88" width="9" height="3.2" rx="1.3" fill="#7800d4" stroke="#4a0090" stroke-width="0.5"/>
<text transform="translate(68.30 662.28) rotate(-90)" class="cl" text-anchor="end" fill="#7800d4">CBMT</text>
</g>
<g>
<rect x="100.10" y="721.75" width="11.8" height="6" rx="3" fill="#fff000"/>
<rect x="101.50" y="723.15" width="9" height="3.2" rx="1.3" fill="#7800d4" stroke="#4a0090" stroke-width="0.5"/>
<text transform="translate(109.30 718.45) rotate(-90)" class="cl" fill="#7800d4">CHLT-TV</text>
</g>
<g opacity="0.5">
<rect x="110.60" y="716.64" width="11.8" height="6" rx="3" fill="#fff000"/>
<rect x="112.00" y="718.04" width="9" height="3.2" rx="1.3" fill="#7800d4" stroke="#4a0090" stroke-width="0.5"/>
<text transform="translate(119.80 713.34) rotate(-90)" class="cl" fill="#7800d4">CJOH-TV-8</text>
</g>
<g opacity="0.5">
<rect x="121.30" y="734.27" width="11.8" height="6" rx="3" fill="#fff000"/>
<rect x="122.70" y="735.67" width="9" height="3.2" rx="1.3" fill="#7800d4" stroke="#4a0090" stroke-width="0.5"/>
<text transform="translate(130.50 730.97) rotate(-90)" class="cl" fill="#7800d4">CKSH-TV</text>
</g>
<g>
<rect x="131.60" y="672.16" width="11.8" height="6" rx="3" fill="#fff000"/>
<rect x="133.00" y="673.56" width="9" height="3.2" rx="1.3" fill="#0a58cc" stroke="#0a3a9a" stroke-width="0.5"/>
<text transform="translate(140.80 668.86) rotate(-90)" class="cl" fill="#0a58cc">CFTM-DT</text>
</g>
<g opacity="0.5">
<rect x="141.80" y="741.81" width="11.8" height="6" rx="3" fill="#fff000"/>
<rect x="143.20" y="743.21" width="9" height="3.2" rx="1.3" fill="#7800d4" stroke="#4a0090" stroke-width="0.5"/>
<text transform="translate(151.00 738.51) rotate(-90)" class="cl" fill="#7800d4">CBFT-1</text>
</g>
<g opacity="0.5">
<rect x="141.80" y="743.22" width="11.8" height="6" rx="3" fill="#fff000"/>
<rect x="143.20" y="744.62" width="9" height="3.2" rx="1.3" fill="#7800d4" stroke="#4a0090" stroke-width="0.5"/>
<text transform="translate(151.00 739.92) rotate(-90)" class="cl" fill="#7800d4">CKMI-TV-2</text>
</g>
<g>
<rect x="152.10" y="659.25" width="11.8" height="6" rx="3" fill="#fff000"/>
<rect x="153.50" y="660.65" width="9" height="3.2" rx="1.3" fill="#7800d4" stroke="#4a0090" stroke-width="0.5"/>
<text transform="translate(161.30 655.95) rotate(-90)" class="cl" fill="#7800d4">CFCF-TV</text>
</g>
<g opacity="0.5">
<rect x="162.30" y="744.11" width="11.8" height="6" rx="3" fill="#fff000"/>
<rect x="163.70" y="745.51" width="9" height="3.2" rx="1.3" fill="#0a58cc" stroke="#0a3a9a" stroke-width="0.5"/>
<text transform="translate(171.50 740.81) rotate(-90)" class="cl" fill="#0a58cc">WVNY-DT</text>
</g>
<g opacity="0.5">
<rect x="162.30" y="745.01" width="11.8" height="6" rx="3" fill="#fff000"/>
<rect x="163.70" y="746.41" width="9" height="3.2" rx="1.3" fill="#7800d4" stroke="#4a0090" stroke-width="0.5"/>
<text transform="translate(171.50 741.71) rotate(-90)" class="cl" fill="#7800d4">CKTM-TV</text>
</g>
<g>
<rect x="215.50" y="733.24" width="9" height="3.2" rx="1.3" fill="#0a58cc" stroke="#0a3a9a" stroke-width="0.5"/>
<text transform="translate(223.30 728.54) rotate(-90)" class="cl" fill="#0a58cc">WPTZ-DT</text>
</g>
<g>
<rect x="225.80" y="685.45" width="9" height="3.2" rx="1.3" fill="#0a58cc" stroke="#0a3a9a" stroke-width="0.5"/>
<text transform="translate(233.60 680.75) rotate(-90)" class="cl" fill="#0a58cc">CKMI-DT-1</text>
</g>
<g>
<rect x="246.40" y="659.12" width="9" height="3.2" rx="1.3" fill="#7800d4" stroke="#4a0090" stroke-width="0.5"/>
<text transform="translate(254.20 654.42) rotate(-90)" class="cl" fill="#7800d4">CIVM-TV</text>
</g>
<g>
<rect x="267.00" y="675.35" width="9" height="3.2" rx="1.3" fill="#0a58cc" stroke="#0a3a9a" stroke-width="0.5"/>
<text transform="translate(274.80 670.65) rotate(-90)" class="cl" fill="#0a58cc">CBFT-DT</text>
</g>
<g>
<rect x="287.60" y="675.35" width="9" height="3.2" rx="1.3" fill="#0a58cc" stroke="#0a3a9a" stroke-width="0.5"/>
<text transform="translate(295.40 670.65) rotate(-90)" class="cl" fill="#0a58cc">CBMT-DT</text>
</g>
<g>
<rect x="297.90" y="731.20" width="9" height="3.2" rx="1.3" fill="#0a58cc" stroke="#0a3a9a" stroke-width="0.5"/>
<text transform="translate(305.70 726.50) rotate(-90)" class="cl" fill="#0a58cc">WCAX-DT</text>
</g>
<g>
<rect x="318.50" y="736.95" width="9" height="3.2" rx="1.3" fill="#7800d4" stroke="#4a0090" stroke-width="0.5"/>
<text transform="translate(326.30 732.25) rotate(-90)" class="cl" fill="#7800d4">CIVS-TV</text>
</g>
<g>
<rect x="339.10" y="670.62" width="9" height="3.2" rx="1.3" fill="#0a58cc" stroke="#0a3a9a" stroke-width="0.5"/>
<text transform="translate(346.90 665.92) rotate(-90)" class="cl" fill="#0a58cc">CIVM-DT(2)</text>
</g>
<g>
<rect x="370.00" y="684.42" width="9" height="3.2" rx="1.3" fill="#7800d4" stroke="#4a0090" stroke-width="0.5"/>
<text transform="translate(377.80 679.72) rotate(-90)" class="cl" fill="#7800d4">CFTU-TV</text>
</g>
<g opacity="0.5">
<rect x="380.30" y="748.45" width="9" height="3.2" rx="1.3" fill="#7800d4" stroke="#4a0090" stroke-width="0.5"/>
<text transform="translate(388.10 743.75) rotate(-90)" class="cl" fill="#7800d4">CFKS-TV</text>
</g>
<g>
<rect x="400.90" y="742.96" width="9" height="3.2" rx="1.3" fill="#0a58cc" stroke="#0a3a9a" stroke-width="0.5"/>
<text transform="translate(408.70 738.26) rotate(-90)" class="cl" fill="#0a58cc">WETK-DT</text>
</g>
<g>
<rect x="431.80" y="662.57" width="9" height="3.2" rx="1.3" fill="#7800d4" stroke="#4a0090" stroke-width="0.5"/>
<text transform="translate(439.60 657.87) rotate(-90)" class="cl" fill="#7800d4">CFJP-TV</text>
</g>
<g>
<rect x="462.70" y="698.99" width="9" height="3.2" rx="1.3" fill="#0a58cc" stroke="#0a3a9a" stroke-width="0.5"/>
<text transform="translate(470.50 694.29) rotate(-90)" class="cl" fill="#0a58cc">WCFE-DT</text>
</g>
<g>
<rect x="503.90" y="692.35" width="9" height="3.2" rx="1.3" fill="#0a58cc" stroke="#0a3a9a" stroke-width="0.5"/>
<text transform="translate(511.70 687.65) rotate(-90)" class="cl" fill="#0a58cc">CFJP-DT</text>
</g>
<g>
<rect x="514.20" y="747.56" width="9" height="3.2" rx="1.3" fill="#0a58cc" stroke="#0a3a9a" stroke-width="0.5"/>
<text transform="translate(522.00 742.86) rotate(-90)" class="cl" fill="#0a58cc">WFFF-DT</text>
</g>
<g>
<rect x="545.10" y="680.72" width="9" height="3.2" rx="1.3" fill="#7800d4" stroke="#4a0090" stroke-width="0.5"/>
<text transform="translate(552.90 676.02) rotate(-90)" class="cl" fill="#7800d4">CKMI-TV-1</text>
</g>
<g>
<rect x="596.60" y="692.73" width="9" height="3.2" rx="1.3" fill="#0a58cc" stroke="#0a3a9a" stroke-width="0.5"/>
<text transform="translate(604.40 688.03) rotate(-90)" class="cl" fill="#0a58cc">CFCF-DT</text>
</g>
<g>
<rect x="709.90" y="688.39" width="9" height="3.2" rx="1.3" fill="#7800d4" stroke="#4a0090" stroke-width="0.5"/>
<text transform="translate(717.70 683.69) rotate(-90)" class="cl" fill="#7800d4">CJNT-TV</text>
</g>
</svg>
</body></html>
